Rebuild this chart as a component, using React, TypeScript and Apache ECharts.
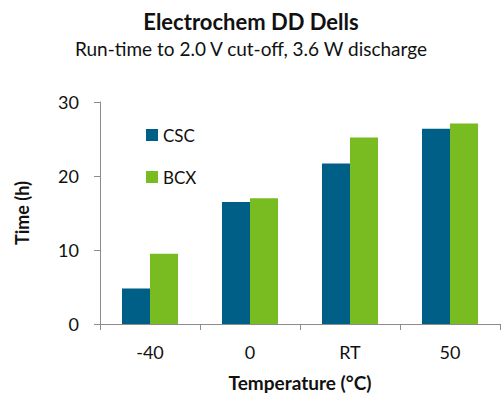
import React, { useEffect, useRef } from "react";
import * as echarts from "echarts";

const categories = ["-40", "0", "RT", "50"];
const cscValues = [4.8, 16.5, 21.7, 26.4];
const bcxValues = [9.5, 17.0, 25.2, 27.1];
const yTicks = { min: 0, max: 30, interval: 10 };

const FONT = "Lato, 'Open Sans', sans-serif";

export default function App() {
  const ref = useRef<HTMLDivElement>(null);
  useEffect(() => {
    if (!ref.current) return;
    const chart = echarts.init(ref.current, undefined, { renderer: "svg" });
    chart.setOption({
      animation: false,
      backgroundColor: "#fff",
      textStyle: { fontFamily: FONT, color: "#111" },
      title: {
        text: "Electrochem DD Dells",
        subtext: "Run-time to 2.0 V cut-off, 3.6 W discharge",
        left: "center",
        top: 5,
        itemGap: 7,
        textStyle: { fontFamily: FONT, fontSize: 22, fontWeight: "bold", color: "#111" },
        subtextStyle: { fontFamily: FONT, fontSize: 19, color: "#111" },
      },
      legend: {
        orient: "vertical",
        left: 141,
        top: 121,
        itemWidth: 12,
        itemHeight: 12,
        itemGap: 24,
        icon: "rect",
        textStyle: { fontFamily: FONT, fontSize: 17, color: "#111", lineHeight: 18 },
        data: ["CSC", "BCX"],
      },
      grid: { left: 100, right: 2, top: 102, bottom: 76 },
      xAxis: {
        type: "category",
        data: categories,
        name: "Temperature (°C)",
        nameLocation: "middle",
        nameGap: 49,
        nameTextStyle: { fontFamily: FONT, fontSize: 19, fontWeight: "bold", color: "#111" },
        axisLine: { lineStyle: { color: "#8c8c8c", width: 1 } },
        axisTick: { show: true, length: 6, lineStyle: { color: "#8c8c8c" } },
        axisLabel: { fontFamily: FONT, fontSize: 18, color: "#111", margin: 19 },
      },
      yAxis: {
        type: "value",
        min: yTicks.min,
        max: yTicks.max,
        interval: yTicks.interval,
        name: "Time (h)",
        nameLocation: "middle",
        nameGap: 69,
        nameTextStyle: { fontFamily: FONT, fontSize: 18, fontWeight: "bold", color: "#111" },
        axisLine: { show: true, lineStyle: { color: "#8c8c8c", width: 1 } },
        axisTick: { show: true, length: 6, lineStyle: { color: "#8c8c8c" } },
        axisLabel: { fontFamily: FONT, fontSize: 18, color: "#111", margin: 21 },
        splitLine: { show: false },
      },
      series: [
        {
          name: "CSC",
          type: "bar",
          data: cscValues,
          barGap: "0%",
          barCategoryGap: "44%",
          itemStyle: { color: "#005F87" },
        },
        {
          name: "BCX",
          type: "bar",
          data: bcxValues,
          barGap: "0%",
          barCategoryGap: "44%",
          itemStyle: { color: "#78BC22" },
        },
      ],
    });
    return () => chart.dispose();
  }, []);
  return <div ref={ref} style={{ width: 502, height: 400, position: "absolute", left: 0, top: 0 }} />;
}
